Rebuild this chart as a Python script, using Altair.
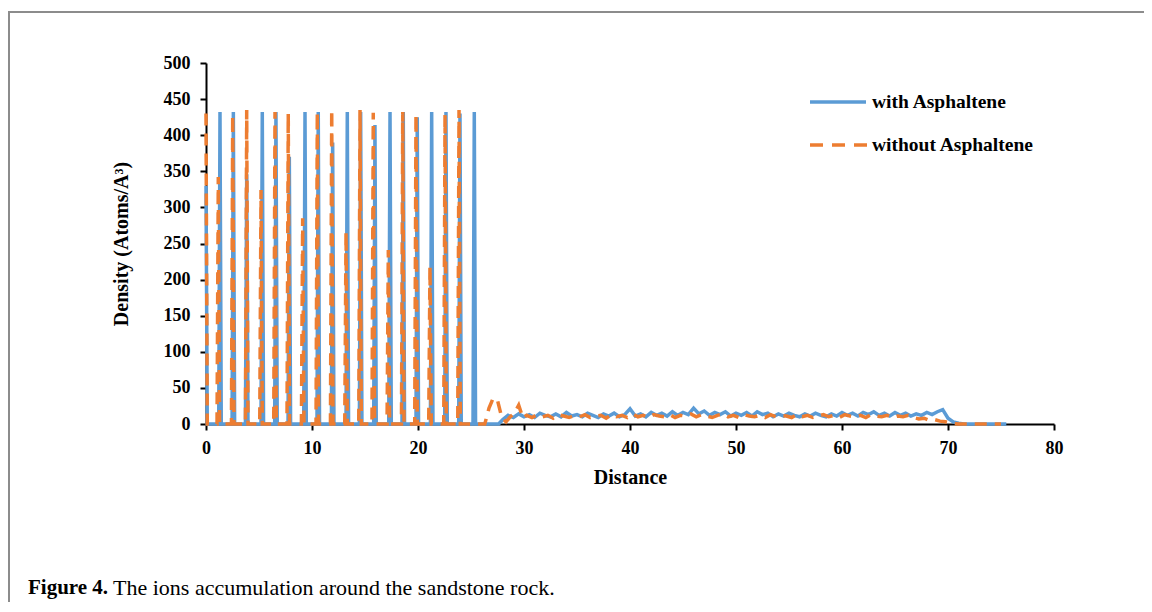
import altair as alt
import pandas as pd

series_names = ["with Asphaltene", "without Asphaltene"]
colors = ["#5B9BD5", "#ED7D31"]

# spike centres and heights (Distance, Density)
blue_peak_x = [0.0, 1.32, 2.58, 3.84, 5.31, 6.60, 7.86, 9.34, 10.59, 11.95, 13.33,
               14.59, 15.94, 17.36, 18.61, 19.93, 21.29, 22.64, 23.96, 25.31]
blue_peak_h = [330, 432, 432, 346, 432, 432, 370, 432, 432, 390, 432,
               432, 414, 432, 432, 425, 432, 432, 430, 432]

orange_peak_x = [0.0, 1.16, 2.52, 3.84, 5.19, 6.51, 7.76, 9.12, 10.50, 11.86, 13.21,
                 14.53, 15.78, 17.20, 18.56, 19.81, 21.13, 22.55, 23.87]
orange_peak_h = [430, 342, 428, 435, 324, 432, 430, 285, 432, 435, 266,
                 435, 431, 241, 432, 429, 218, 429, 435]

# low-density tail
blue_tail_x = [27.6, 28.0, 28.5, 29.0, 29.5, 30.0, 30.5, 31.0, 31.5, 32.0, 32.5, 33.0, 33.5,
               34.0, 34.5, 35.0, 35.5, 36.0, 36.5, 37.0, 37.5, 38.0, 38.5, 39.0, 39.5,
               40.0, 40.5, 41.0, 41.5, 42.0, 42.5, 43.0, 43.5, 44.0, 44.5, 45.0, 45.5,
               46.0, 46.5, 47.0, 47.5, 48.0, 48.5, 49.0, 49.5, 50.0, 50.5, 51.0, 51.5,
               52.0, 52.5, 53.0, 53.5, 54.0, 54.5, 55.0, 55.5, 56.0, 56.5, 57.0, 57.5,
               58.0, 58.5, 59.0, 59.5, 60.0, 60.5, 61.0, 61.5, 62.0, 62.5, 63.0, 63.5,
               64.0, 64.5, 65.0, 65.5, 66.0, 66.5, 67.0, 67.5, 68.0, 68.5, 69.0, 69.5,
               70.0, 70.5, 71.0, 71.5, 72.0, 73.0, 74.0, 75.0, 75.5]
blue_tail_y = [0, 6, 12, 9, 14, 10, 13, 9, 15, 12, 10, 14, 10,
               16, 11, 13, 10, 15, 12, 9, 14, 11, 15, 10, 13,
               21, 11, 14, 10, 16, 12, 15, 11, 17, 12, 16, 13,
               22, 14, 18, 12, 16, 13, 17, 11, 15, 12, 16, 11,
               17, 13, 15, 10, 14, 11, 15, 12, 10, 14, 11, 15,
               12, 10, 14, 11, 16, 12, 15, 11, 16, 13, 17, 12,
               15, 11, 16, 12, 15, 11, 14, 12, 16, 13, 17, 20,
               8, 3, 1, 0, 0, 0, 0, 0, 0]

orange_tail_x = [24.0, 26.3, 26.7, 27.1, 27.5, 27.9, 28.3, 28.7, 29.1, 29.5, 29.9, 30.25,
                 30.75, 31.25, 31.75, 32.25, 32.75, 33.25, 33.75, 34.25, 34.75, 35.25,
                 35.75, 36.25, 36.75, 37.25, 37.75, 38.25, 38.75, 39.25, 39.75, 40.25,
                 40.75, 41.25, 41.75, 42.25, 42.75, 43.25, 43.75, 44.25, 44.75, 45.25,
                 45.75, 46.25, 46.75, 47.25, 47.75, 48.25, 48.75, 49.25, 49.75, 50.25,
                 50.75, 51.25, 51.75, 52.25, 52.75, 53.25, 53.75, 54.25, 54.75, 55.25,
                 55.75, 56.25, 56.75, 57.25, 57.75, 58.25, 58.75, 59.25, 59.75, 60.25,
                 60.75, 61.25, 61.75, 62.25, 62.75, 63.25, 63.75, 64.25, 64.75, 65.25,
                 65.75, 66.25, 66.75, 67.25, 67.75, 68.25, 68.75, 69.25, 69.75, 70.25,
                 71.0, 72.0, 73.0, 74.0, 75.0]
orange_tail_y = [0, 0, 22, 36, 33, 9, 3, 10, 15, 26, 8, 12,
                 9, 13, 10, 12, 8, 13, 11, 9, 12, 10,
                 13, 9, 11, 12, 8, 13, 10, 12, 9, 14,
                 10, 12, 9, 13, 11, 10, 13, 9, 12, 11,
                 14, 10, 13, 11, 9, 12, 14, 10, 12, 9,
                 13, 11, 10, 12, 9, 13, 10, 12, 11, 9,
                 13, 10, 12, 9, 11, 13, 10, 12, 9, 13,
                 11, 10, 12, 9, 13, 11, 10, 12, 9, 11,
                 10, 12, 9, 7, 8, 5, 6, 4, 3, 1,
                 0, 0, 0, 0, 0]

x_ticks = [0, 10, 20, 30, 40, 50, 60, 70, 80]
y_ticks = [0, 50, 100, 150, 200, 250, 300, 350, 400, 450, 500]

axis_title_x = "Distance"
axis_title_y = "Density (Atoms/A³)"
caption_bold = "Figure 4."
caption_text = "The ions accumulation around the sandstone rock."


def build(peak_x, peak_h, tail_x, tail_y, half=0.12):
    xs, ys = [], []
    for c, h in zip(peak_x, peak_h):
        if c - half >= 0:
            xs.append(c - half)
            ys.append(0)
        xs.append(c)
        ys.append(h)
        xs.append(c + half)
        ys.append(0)
    xs += tail_x
    ys += tail_y
    return pd.DataFrame({"x": xs, "y": ys, "i": list(range(len(xs)))})


df_blue = build(blue_peak_x, blue_peak_h, blue_tail_x, blue_tail_y)
df_orange = build(orange_peak_x, orange_peak_h, orange_tail_x, orange_tail_y)

FONT = "Liberation Serif"

x_enc = alt.X("x:Q", scale=alt.Scale(domain=[0, 80], nice=False, zero=False),
              axis=alt.Axis(values=x_ticks, title=axis_title_x, labelPadding=9,
                            titlePadding=10, format="d"))
y_enc = alt.Y("y:Q", scale=alt.Scale(domain=[0, 500], nice=False),
              axis=alt.Axis(values=y_ticks, title=axis_title_y, labelPadding=10,
                            titlePadding=32, format="d"))

blue = alt.Chart(df_blue).mark_line(color=colors[0], strokeWidth=3.5).encode(
    x=x_enc, y=y_enc, order="i:Q")
orange = alt.Chart(df_orange).mark_line(color=colors[1], strokeWidth=3.5,
                                        strokeDash=[12, 8]).encode(
    x=x_enc, y=y_enc, order="i:Q")

one = pd.DataFrame({"k": [0]})
leg_df1 = pd.DataFrame({"name": [series_names[0]]})
leg_df2 = pd.DataFrame({"name": [series_names[1]]})

leg_rule1 = alt.Chart(leg_df1).mark_rule(color=colors[0], strokeWidth=3.5).encode(
    x=alt.value(604), x2=alt.value(660), y=alt.value(39))
leg_rule2 = alt.Chart(leg_df2).mark_rule(color=colors[1], strokeWidth=3.5,
                                         strokeDash=[13, 9]).encode(
    x=alt.value(604), x2=alt.value(662), y=alt.value(82))
leg_text1 = alt.Chart(leg_df1).mark_text(align="left", baseline="middle", font=FONT,
                                         fontWeight="bold", fontSize=19.5, color="black").encode(
    x=alt.value(666), y=alt.value(39), text="name:N")
leg_text2 = alt.Chart(leg_df2).mark_text(align="left", baseline="middle", font=FONT,
                                         fontWeight="bold", fontSize=19.5, color="black").encode(
    x=alt.value(666), y=alt.value(82), text="name:N")

cap1 = alt.Chart(pd.DataFrame({"t": [caption_bold]})).mark_text(
    align="left", baseline="middle", font=FONT, fontWeight="bold", fontSize=21,
    color="black").encode(x=alt.value(-178), y=alt.value(525), text="t:N")
cap2 = alt.Chart(pd.DataFrame({"t": [caption_text]})).mark_text(
    align="left", baseline="middle", font=FONT, fontSize=22,
    color="black").encode(x=alt.value(-93), y=alt.value(525), text="t:N")

frame = alt.Chart(one).mark_rect(fill=None, stroke="#8c8c8c", strokeWidth=2).encode(
    x=alt.value(-197), x2=alt.value(1000), y=alt.value(-51), y2=alt.value(700))

chart = alt.layer(frame, blue, orange, leg_rule1, leg_rule2, leg_text1, leg_text2,
                  cap1, cap2).properties(
    width=848, height=361,
    background="white",
    autosize=alt.AutoSizeParams(type="none"),
    padding={"left": 198, "top": 55, "right": 90, "bottom": 178},
).configure_view(stroke=None).configure_axis(
    grid=False, domainColor="black", domainWidth=2, tickColor="black", tickWidth=2,
    tickSize=6, labelFont=FONT, labelFontWeight="bold", labelFontSize=18,
    labelColor="black", titleFont=FONT, titleFontWeight="bold", titleFontSize=20,
    titleColor="black", labelFlush=False, labelOverlap=False,
)

chart.save("out.html", embed_options={"renderer": "svg", "actions": False})
